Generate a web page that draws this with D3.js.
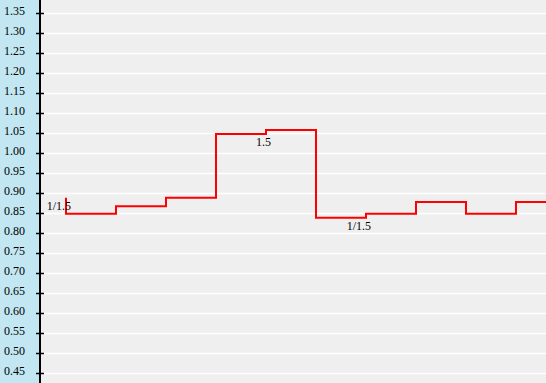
<!DOCTYPE html>
<html>
<head>
<meta charset="utf-8">
<script src="https://cdn.jsdelivr.net/npm/d3@7"></script>
<style>
html,body{margin:0;padding:0;background:#efefef;}
svg{display:block;}
text{font-family:"Liberation Serif","Times New Roman",serif;font-size:12px;}
</style>
</head>
<body>
<svg id="chart" width="546" height="383"></svg>
<script>
const periods = [0, 1, 2, 3, 4, 5, 6, 7, 8, 9, 10];
const values = [0.888, 0.848, 0.867, 0.888, 1.0475, 1.0575, 0.838, 0.848, 0.8775, 0.848, 0.8775];
const pointLabels = [{i: 0, text: "1/1.5"}, {i: 4, text: "1.5"}, {i: 6, text: "1/1.5"}];
const yTicks = [0.45,0.50,0.55,0.60,0.65,0.70,0.75,0.80,0.85,0.90,0.95,1.00,1.05,1.10,1.15,1.20,1.25,1.30,1.35];

const W = 546, H = 383, axisX = 40;
const svg = d3.select("#chart");

const x = d3.scaleLinear().domain([0, 10]).range([66, 566]);
const y = d3.scaleLinear().domain([0.45, 1.35]).range([373, 13]);

// backgrounds
svg.append("rect").attr("x", 0).attr("y", 0).attr("width", axisX).attr("height", H).attr("fill", "#c2e7f2");
svg.append("rect").attr("x", axisX).attr("y", 0).attr("width", W - axisX).attr("height", H).attr("fill", "#efefef");

// gridlines
svg.append("g").selectAll("line").data(yTicks).join("line")
  .attr("x1", axisX + 1).attr("x2", W)
  .attr("y1", d => Math.round(y(d)) + 0.5).attr("y2", d => Math.round(y(d)) + 0.5)
  .attr("stroke", "#ffffff").attr("stroke-width", 1.5);

// axis
const axis = d3.axisLeft(y).tickValues(yTicks).tickFormat(d3.format(".2f")).tickSize(4).tickSizeOuter(0);
const ag = svg.append("g").attr("transform", `translate(${axisX},0)`).call(axis);
ag.select(".domain").attr("stroke", "#000").attr("stroke-width", 2).attr("d", `M0,0V${H}`);
ag.selectAll(".tick line").attr("x1", -4).attr("x2", 4).attr("stroke", "#000").attr("stroke-width", 1.5);
ag.selectAll(".tick text").attr("x", -15).attr("dy", "1").attr("fill", "#000")
  .style("font-family", "'Liberation Serif','Times New Roman',serif").style("font-size", "12px");
ag.attr("font-family", null).attr("font-size", null);

// step line
const data = periods.map((p, i) => ({p, v: values[i]}));
const line = d3.line().x(d => x(d.p)).y(d => y(d.v)).curve(d3.curveStepBefore);
svg.append("path").datum(data).attr("d", line)
  .attr("fill", "none").attr("stroke", "#ff0000").attr("stroke-width", 2);

// labels
svg.append("g").selectAll("text").data(pointLabels).join("text")
  .attr("x", d => x(periods[d.i]) + 5)
  .attr("y", d => y(values[d.i]) + 12)
  .attr("text-anchor", "end").attr("fill", "#000")
  .text(d => d.text);
</script>
</body>
</html>
